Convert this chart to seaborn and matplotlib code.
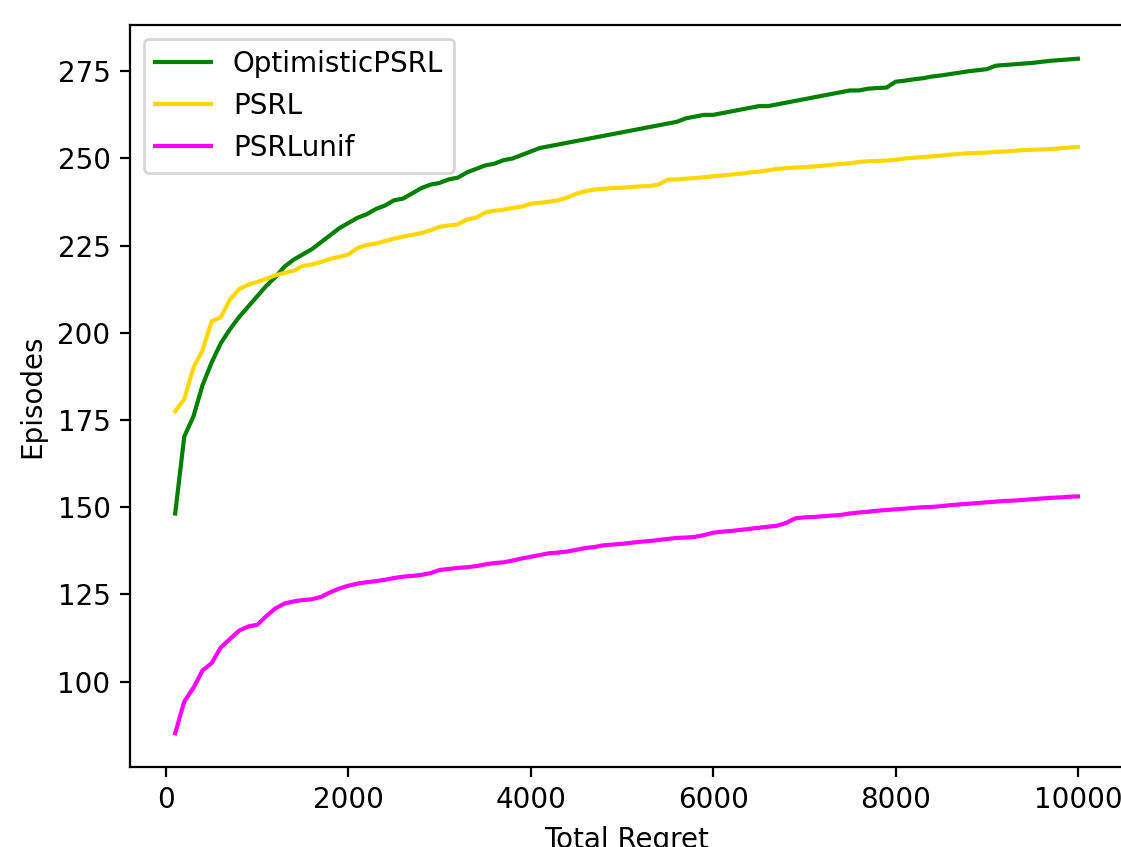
import matplotlib
matplotlib.use("Agg")
import matplotlib.pyplot as plt
import seaborn as sns
import pandas as pd

# total regret checkpoints
regret = list(range(100, 10001, 100))

optimistic_psrl = [
    148.2, 170.3, 176.0, 185.0, 191.5, 197.0, 201.0, 204.5, 207.5, 210.5,
    213.5, 216.0, 219.0, 221.0, 222.5, 224.0, 226.0, 228.0, 230.0, 231.5,
    233.0, 234.0, 235.5, 236.5, 238.0, 238.5, 240.0, 241.5, 242.5, 243.0,
    244.0, 244.5, 246.0, 247.0, 248.0, 248.5, 249.5, 250.0, 251.0, 252.0,
    253.0, 253.5, 254.0, 254.5, 255.0, 255.5, 256.0, 256.5, 257.0, 257.5,
    258.0, 258.5, 259.0, 259.5, 260.0, 260.5, 261.5, 262.0, 262.5, 262.5,
    263.0, 263.5, 264.0, 264.5, 265.0, 265.0, 265.5, 266.0, 266.5, 267.0,
    267.5, 268.0, 268.5, 269.0, 269.5, 269.5, 270.0, 270.2, 270.3, 272.0,
    272.3, 272.7, 273.0, 273.5, 273.8, 274.2, 274.6, 275.0, 275.3, 275.6,
    276.6, 276.8, 277.0, 277.2, 277.4, 277.7, 278.0, 278.2, 278.4, 278.6,
]

psrl = [
    177.5, 181.0, 190.0, 195.0, 203.3, 204.5, 209.5, 212.5, 213.8, 214.6,
    215.5, 216.5, 217.2, 217.8, 219.2, 219.6, 220.3, 221.2, 221.8, 222.5,
    224.3, 225.2, 225.6, 226.3, 227.0, 227.6, 228.1, 228.6, 229.4, 230.4,
    230.8, 231.1, 232.5, 233.0, 234.5, 235.0, 235.3, 235.8, 236.2, 237.0,
    237.3, 237.6, 238.0, 238.8, 239.9, 240.6, 241.1, 241.3, 241.5, 241.6,
    241.8, 242.0, 242.1, 242.5, 243.9, 244.0, 244.2, 244.4, 244.6, 244.9,
    245.1, 245.4, 245.6, 246.0, 246.2, 246.6, 247.0, 247.2, 247.4, 247.5,
    247.7, 247.9, 248.2, 248.4, 248.6, 249.0, 249.2, 249.3, 249.4, 249.6,
    250.0, 250.2, 250.4, 250.6, 250.8, 251.1, 251.3, 251.5, 251.6, 251.7,
    251.9, 252.0, 252.2, 252.4, 252.5, 252.6, 252.7, 252.9, 253.1, 253.3,
]

psrl_unif = [
    85.2, 94.3, 98.2, 103.2, 105.3, 109.8, 112.2, 114.6, 115.8, 116.3,
    118.8, 121.0, 122.4, 123.0, 123.4, 123.6, 124.3, 125.6, 126.7, 127.5,
    128.1, 128.5, 128.8, 129.2, 129.7, 130.1, 130.3, 130.6, 131.1, 132.0,
    132.3, 132.6, 132.8, 133.1, 133.6, 134.0, 134.2, 134.7, 135.3, 135.8,
    136.3, 136.8, 137.0, 137.3, 137.8, 138.3, 138.6, 139.1, 139.3, 139.5,
    139.8, 140.1, 140.3, 140.6, 140.9, 141.2, 141.3, 141.5, 142.0, 142.7,
    143.0, 143.2, 143.5, 143.8, 144.1, 144.4, 144.7, 145.5, 146.8, 147.1,
    147.2, 147.4, 147.6, 147.8, 148.2, 148.5, 148.7, 149.0, 149.2, 149.4,
    149.6, 149.8, 150.0, 150.1, 150.3, 150.6, 150.8, 151.0, 151.2, 151.4,
    151.6, 151.8, 151.9, 152.1, 152.3, 152.5, 152.7, 152.8, 153.0, 153.1,
]

series = {
    "OptimisticPSRL": (optimistic_psrl, "green"),
    "PSRL": (psrl, "gold"),
    "PSRLunif": (psrl_unif, "magenta"),
}

fig = plt.figure(figsize=(5.605, 4.235), dpi=200)
ax = fig.add_axes([0.116, 0.0945, 0.8858, 0.876])

for name, (vals, color) in series.items():
    df = pd.DataFrame({"Total Regret": regret, "Episodes": vals})
    sns.lineplot(data=df, x="Total Regret", y="Episodes", color=color,
                 label=name, linewidth=1.5, ax=ax)

ax.set_xticks([0, 2000, 4000, 6000, 8000, 10000])
ax.set_yticks([100, 125, 150, 175, 200, 225, 250, 275])
ax.legend(loc="upper left")

fig.savefig("out.png", dpi=200)
